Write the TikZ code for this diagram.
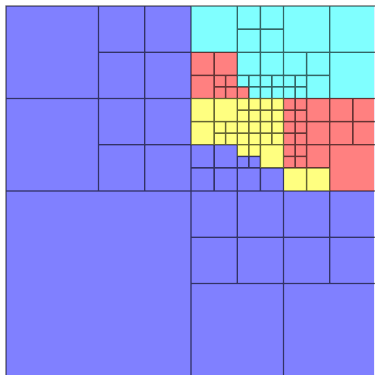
\documentclass[tikz,border=0pt]{standalone}
\definecolor{qblue}{RGB}{128,128,255}
\definecolor{qcyan}{RGB}{128,255,255}
\definecolor{qred}{RGB}{255,128,128}
\definecolor{qyellow}{RGB}{255,255,128}
\begin{document}
\begin{tikzpicture}[x=0.25cm,y=-0.25cm,
  gridline/.style={draw=black,line width=0.9pt}]
\useasboundingbox (-0.519,-0.519) rectangle (31.827,31.913);
\clip (-0.519,-0.519) rectangle (31.827,31.913);
\fill[qblue] (0,0) rectangle (32,32);
\fill[qcyan] (16,0) rectangle (32,8);
\fill[qred] (16,4) rectangle (20,8);
\fill[qred] (20,7) rectangle (21,8);
\fill[qred] (24,8) rectangle (32,16);
\fill[qyellow] (16,8) rectangle (24,12);
\fill[qyellow] (20,12) rectangle (22,13);
\fill[qyellow] (22,12) rectangle (24,14);
\fill[qyellow] (24,14) rectangle (28,16);
\begin{scope}[transparency group,opacity=0.6]
\draw[gridline] (0,0) rectangle (32,32)
  (0,16) rectangle ++(16,16)
  foreach \x/\y in {0/0,0/8,16/24,24/24} {(\x,\y) rectangle ++(8,8)}
  foreach \x/\y in {8/0,12/0,8/4,12/4,8/8,12/8,8/12,12/12,
    16/16,20/16,16/20,20/20,24/16,28/16,24/20,28/20,
    16/0,24/0,28/0,28/4,28/12} {(\x,\y) rectangle ++(4,4)}
  foreach \x/\y in {20/0,22/0,20/2,22/2,16/4,18/4,16/6,20/4,22/4,
    24/4,26/4,26/6,16/8,18/8,16/10,16/12,18/12,16/14,18/14,
    22/12,20/14,22/14,26/8,26/10,28/8,30/8,28/10,30/10,
    26/12,24/14,26/14} {(\x,\y) rectangle ++(2,2)}
  foreach \x in {18,19,20,21,22,23,24,25} {(\x,6) rectangle ++(1,1) (\x,7) rectangle ++(1,1)}
  foreach \x in {18,19} {(\x,10) rectangle ++(1,1) (\x,11) rectangle ++(1,1)}
  foreach \x in {20,21,22,23,24,25} {foreach \y in {8,9,10,11} {(\x,\y) rectangle ++(1,1)}}
  foreach \x in {20,21,24,25} {(\x,12) rectangle ++(1,1) (\x,13) rectangle ++(1,1)};
\end{scope}
\end{tikzpicture}
\end{document}
